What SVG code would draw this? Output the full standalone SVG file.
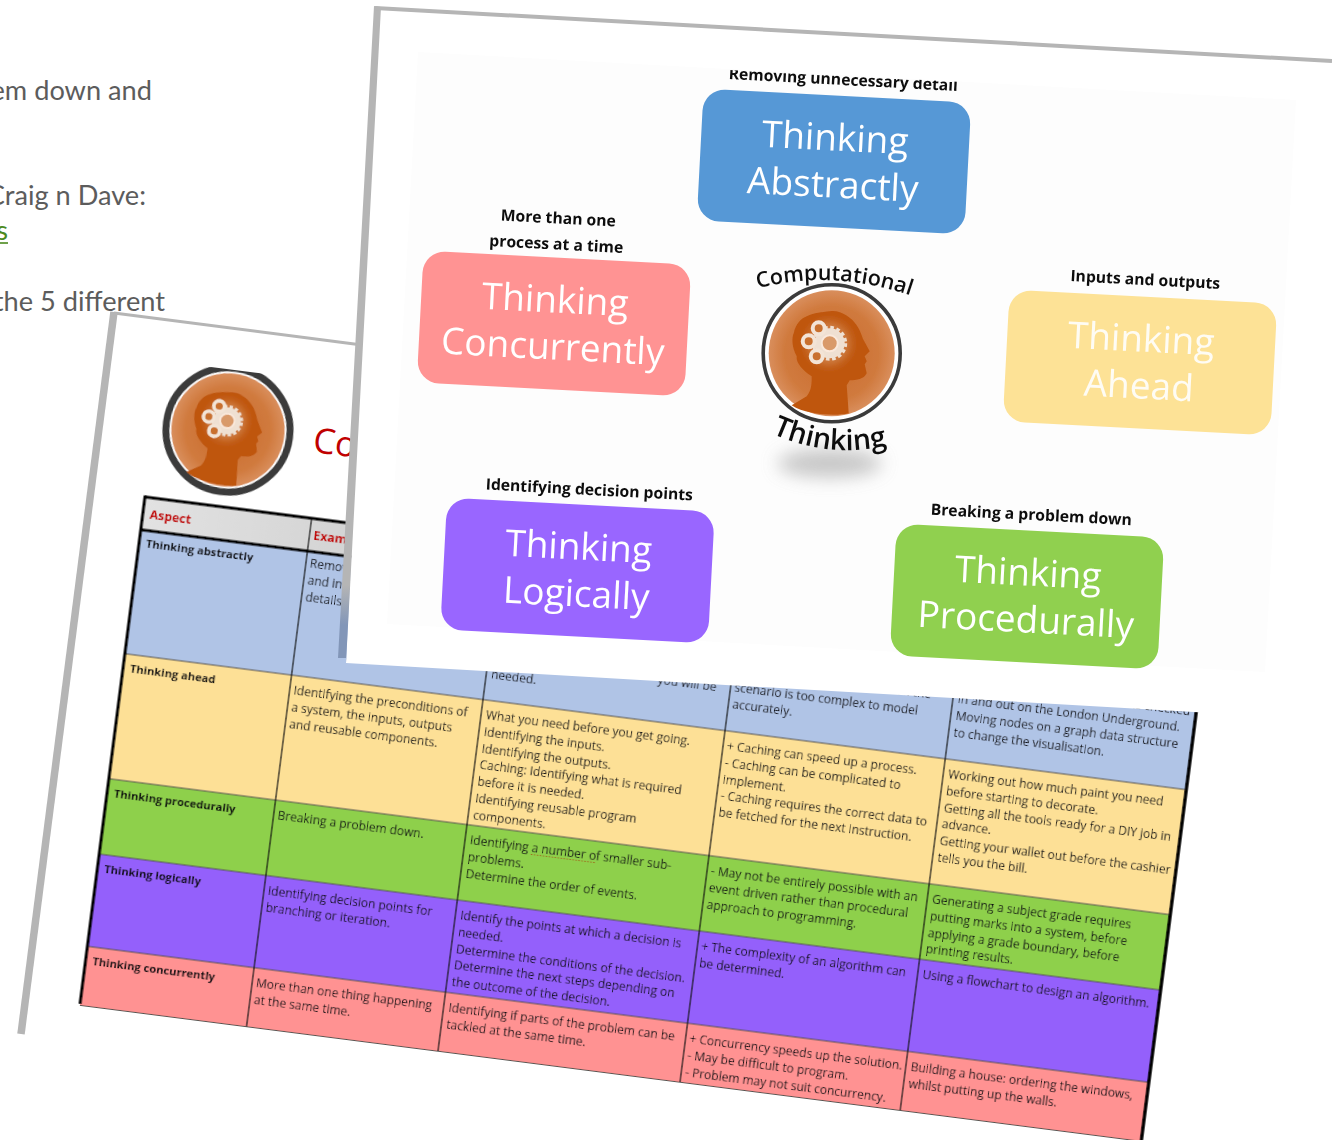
<svg xmlns="http://www.w3.org/2000/svg" xmlns:xlink="http://www.w3.org/1999/xlink" width="1332" height="1140" viewBox="0 0 1332 1140">
<style>
.page{font-family:Lato,"Open Sans",sans-serif;font-size:27.2px;fill:#5c5c5c}
.t{font-family:"Open Sans","Noto Sans",sans-serif;font-size:12px;fill:#101014}
.b{font-family:"Open Sans","Noto Sans",sans-serif;font-size:11.2px;font-weight:700;fill:#0c0c10}
.h{font-family:"Open Sans","Noto Sans",sans-serif;font-size:12.4px;font-weight:700;fill:#c00000}
.card{font-family:"Open Sans","Noto Sans",sans-serif;font-size:37px;fill:#fff;text-anchor:middle}
.lab{font-family:"Open Sans","Noto Sans",sans-serif;font-size:15.7px;font-weight:700;fill:#111;text-anchor:middle}
.cv{font-family:"Open Sans","Noto Sans",sans-serif;font-weight:600;fill:#111}
.v{stroke:#111;stroke-width:1.2}
.r{stroke:#55534f;stroke-width:1.2}
.frame{fill:none;stroke:#b5b5b5}
</style>
<defs>
<radialGradient id="og" cx="50%" cy="50%" r="50%"><stop offset="0" stop-color="#c96a2a"/><stop offset=".75" stop-color="#d07a3e"/><stop offset="1" stop-color="#d98e5c"/></radialGradient>
<linearGradient id="hd" x1="0" y1="0" x2="1" y2="0"><stop offset="0" stop-color="#e2e2e2"/><stop offset=".5" stop-color="#bdbdbd"/><stop offset="1" stop-color="#d6d6d6"/></linearGradient>
<linearGradient id="strip" gradientUnits="userSpaceOnUse" x1="0" y1="585" x2="0" y2="625"><stop offset="0" stop-color="#b5b5b5"/><stop offset="1" stop-color="#8296b8"/></linearGradient>
<filter id="soft" x="-5%" y="-5%" width="110%" height="110%"><feGaussianBlur stdDeviation=".4"/></filter>
<filter id="sh" x="-50%" y="-100%" width="200%" height="300%"><feGaussianBlur stdDeviation="9"/></filter>
<filter id="gl" x="-50%" y="-50%" width="200%" height="200%"><feGaussianBlur stdDeviation="4"/></filter>
<clipPath id="topcut"><polygon points="690,68 1000,84 1000,110 690,100"/></clipPath>
<g id="head">
<circle r="63" fill="url(#og)"/>
<path fill="#bf560e" d="M-2,-42 C8,-44 20,-36 25,-28 C29,-22 30,-17 32,-13 L38,-2 L33,3 L35,8 L33,11 L35,20 C32,26 25,27 18,27 L15,32 L17,60 C5,63 -25,62 -40,52 L-25,43 C-20,37 -20,30 -20,23 C-28,18 -36,10 -35,3 C-40,-6 -40,-16 -38,-20 C-36,-30 -30,-35 -25,-37 C-17,-41 -10,-41 -2,-42 Z"/>
<circle cx="-3" cy="-10" r="22" fill="#f3d8c0" opacity=".3" filter="url(#gl)"/>
<circle cx="-2" cy="-10" r="15" fill="#efe0d2" stroke="#efe0d2" stroke-width="5" stroke-dasharray="3.4 2.5"/>
<circle cx="-2" cy="-10" r="8" fill="#d99a6a" stroke="#fae9dc" stroke-width="2"/>
<circle cx="-13" cy="-25" r="6" fill="#c9702e" stroke="#f3e4d6" stroke-width="4"/>
<circle cx="-23" cy="-12" r="6" fill="#c9702e" stroke="#f3e4d6" stroke-width="4"/>
<circle cx="-15" cy="3" r="6" fill="#c9702e" stroke="#f3e4d6" stroke-width="4"/>
</g>
</defs>

<rect width="1332" height="1140" fill="#fff"/>

<g id="page-text">
<text class="page" x="152" y="100" text-anchor="end">em down and</text>
<text class="page" x="146" y="205" text-anchor="end">Craig n Dave:</text>
<text class="page" x="8" y="240" text-anchor="end" style="fill:#4c8a1e">s</text>
<line x1="0" y1="243" x2="8" y2="243" stroke="#4c8a1e" stroke-width="1.6"/>
<text class="page" x="165" y="311" text-anchor="end">the 5 different</text>
</g>

<g id="back-sheet">
<polygon points="114,314 1000,430 1000,1140 20,1140 20,1034" fill="#fff"/>
<path class="frame" stroke-width="3" d="M114,313 L362,345"/>
<path class="frame" stroke-width="7.5" d="M114,312 L21,1034"/>
<g id="back-logo" transform="translate(228,430) rotate(7.3)" filter="url(#soft)">
<circle r="62" fill="#fff" stroke="#3a3a3a" stroke-width="7"/>
<use xlink:href="#head" href="#head" transform="scale(.9)"/>
</g>
<polygon points="190,355 280,367 267,374 207,366.5" fill="#fff"/>
<text x="312" y="452" transform="rotate(7.3 312 452)" style="font-family:'Open Sans',sans-serif;font-size:35px;fill:#c00000">Co</text>
<g id="table" transform="translate(145,497) rotate(7.3)" filter="url(#soft)">
<rect x="0" y="0" width="1070" height="33" fill="url(#hd)"/>
<rect x="0" y="33" width="1070" height="125" fill="#b0c4e6"/>
<rect x="0" y="158" width="1070" height="126" fill="#fde096"/>
<rect x="0" y="284" width="1070" height="76" fill="#8ed04c"/>
<rect x="0" y="360" width="1070" height="93" fill="#9460fb"/>
<rect x="0" y="453" width="1070" height="60" fill="#ff9292"/>
<path class="r" d="M0,158H1070M0,284H1070M0,360H1070M0,453H1070M0,512.5H1070"/>
<path class="v" d="M168,0V512M361,33V512M605,33V512M827,33V512"/>
<path d="M0,0H1070M0,33H1070" stroke="#000" stroke-width="3"/>
<path d="M0,-1.5V511" stroke="#000" stroke-width="3"/>
<path d="M1070,0V520" stroke="#000" stroke-width="3.4"/>

<text class="h" x="7" y="21.500">Aspect</text>
<text class="h" x="172" y="21.500">Exam</text>

<text class="b" x="7" y="50">Thinking abstractly</text>
<text class="t" x="172" y="49.500">Removi</text>
<text class="t" x="172" y="66.300">and incl</text>
<text class="t" x="172" y="83.100">details.</text>
<text class="t" x="591" y="120" text-anchor="end">you will be</text>
<text class="t" x="366" y="136.500">needed.</text>
<text class="t" x="805" y="100" text-anchor="end">such the</text>
<text class="t" x="609" y="118.500">scenario is too complex to model</text>
<text class="t" x="609" y="135.300">accurately.</text>
<text class="t" x="1064" y="84.500" text-anchor="end">is checked</text>
<text class="t" x="832" y="101">in and out on the London Underground.</text>
<text class="t" x="832" y="117.800">Moving nodes on a graph data structure</text>
<text class="t" x="832" y="134.600">to change the visualisation.</text>

<text class="b" x="7" y="176">Thinking ahead</text>
<text class="t" x="172" y="177">Identifying the preconditions of</text>
<text class="t" x="172" y="193.800">a system, the inputs, outputs</text>
<text class="t" x="172" y="210.600">and reusable components.</text>
<text class="t" x="366" y="177">What you need before you get going.</text>
<text class="t" x="366" y="193.800">Identifying the inputs.</text>
<text class="t" x="366" y="210.600">Identifying the outputs.</text>
<text class="t" x="366" y="227.400">Caching: Identifying what is required</text>
<text class="t" x="366" y="244.200">before it is needed.</text>
<text class="t" x="366" y="261">Identifying reusable program</text>
<text class="t" x="366" y="277.800">components.</text>
<text class="t" x="609" y="177">+ Caching can speed up a process.</text>
<text class="t" x="609" y="193.800">- Caching can be complicated to</text>
<text class="t" x="609" y="210.600">implement.</text>
<text class="t" x="609" y="227.400">- Caching requires the correct data to</text>
<text class="t" x="609" y="244.200">be fetched for the next instruction.</text>
<text class="t" x="832" y="177">Working out how much paint you need</text>
<text class="t" x="832" y="193.800">before starting to decorate.</text>
<text class="t" x="832" y="210.600">Getting all the tools ready for a DIY job in</text>
<text class="t" x="832" y="227.400">advance.</text>
<text class="t" x="832" y="244.200">Getting your wallet out before the cashier</text>
<text class="t" x="832" y="261">tells you the bill.</text>

<text class="b" x="7" y="302">Thinking procedurally</text>
<text class="t" x="172" y="303">Breaking a problem down.</text>
<text class="t" x="366" y="303">Identifying a number of smaller sub-</text>
<path d="M428,305.500H493" stroke="#a05a10" stroke-width="1" stroke-dasharray="1.5 1.5" fill="none"/>
<text class="t" x="366" y="319.800">problems.</text>
<text class="t" x="366" y="336.600">Determine the order of events.</text>
<text class="t" x="609" y="303">- May not be entirely possible with an</text>
<text class="t" x="609" y="319.800">event driven rather than procedural</text>
<text class="t" x="609" y="336.600">approach to programming.</text>
<text class="t" x="832" y="303">Generating a subject grade requires</text>
<text class="t" x="832" y="319.800">putting marks into a system, before</text>
<text class="t" x="832" y="336.600">applying a grade boundary, before</text>
<text class="t" x="832" y="353.400">printing results.</text>

<text class="b" x="7" y="378">Thinking logically</text>
<text class="t" x="172" y="379">Identifying decision points for</text>
<text class="t" x="172" y="395.800">branching or iteration.</text>
<text class="t" x="366" y="379">Identify the points at which a decision is</text>
<text class="t" x="366" y="395.800">needed.</text>
<text class="t" x="366" y="412.600">Determine the conditions of the decision.</text>
<text class="t" x="366" y="429.400">Determine the next steps depending on</text>
<text class="t" x="366" y="446.200">the outcome of the decision.</text>
<text class="t" x="609" y="379">+ The complexity of an algorithm can</text>
<text class="t" x="609" y="395.800">be determined.</text>
<text class="t" x="832" y="379">Using a flowchart to design an algorithm.</text>

<text class="b" x="7" y="471">Thinking concurrently</text>
<text class="t" x="172" y="472">More than one thing happening</text>
<text class="t" x="172" y="488.800">at the same time.</text>
<text class="t" x="366" y="472">Identifying if parts of the problem can be</text>
<text class="t" x="366" y="488.800">tackled at the same time.</text>
<text class="t" x="609" y="472">+ Concurrency speeds up the solution.</text>
<text class="t" x="609" y="488.800">- May be difficult to program.</text>
<text class="t" x="609" y="505.600">- Problem may not suit concurrency.</text>
<text class="t" x="832" y="472">Building a house: ordering the windows,</text>
<text class="t" x="832" y="488.800">whilst putting up the walls.</text>
</g>
</g>

<g id="front-sheet">
<polygon points="378,9 1332,62 1332,720 346,663" fill="#fff"/>
<polygon points="418,52 1296,100 1265,672 387,624" fill="#fdfdfd"/>
<polygon points="374,6 381,7 346,663 346,658 338,658" fill="url(#strip)"/>
<path class="frame" stroke-width="4" d="M375,8 L1332,61"/>

<g filter="url(#soft)">
<g id="thinking-abstractly" transform="translate(834,161.500) rotate(3)">
<rect x="-134" y="-66" width="268" height="132" rx="22" fill="#5698d6"/>
<text class="card" y="-11">Thinking</text>
<text class="card" y="36">Abstractly</text>
</g>
<g id="thinking-concurrently" transform="translate(554,323.500) rotate(3)">
<rect x="-134" y="-66" width="268" height="132" rx="22" fill="#ff9393"/>
<text class="card" y="-11">Thinking</text>
<text class="card" y="36">Concurrently</text>
</g>
<g id="thinking-ahead" transform="translate(1140,362.500) rotate(3)">
<rect x="-134" y="-66" width="268" height="132" rx="22" fill="#fde296"/>
<text class="card" y="-11" opacity=".9">Thinking</text>
<text class="card" y="36" opacity=".9">Ahead</text>
</g>
<g id="thinking-logically" transform="translate(577.500,570.500) rotate(3)">
<rect x="-134" y="-66" width="268" height="132" rx="22" fill="#9966ff"/>
<text class="card" y="-11">Thinking</text>
<text class="card" y="36">Logically</text>
</g>
<g id="thinking-procedurally" transform="translate(1027,596.500) rotate(3)">
<rect x="-134" y="-66" width="268" height="132" rx="22" fill="#90d050"/>
<text class="card" y="-11">Thinking</text>
<text class="card" y="36">Procedurally</text>
</g>

<g id="labels">
<g clip-path="url(#topcut)"><text class="lab" transform="translate(843,85) rotate(3)">Removing unnecessary detail</text></g>
<text class="lab" transform="translate(558,223.500) rotate(3)">More than one</text>
<text class="lab" transform="translate(556,249.500) rotate(3)">process at a time</text>
<text class="lab" transform="translate(1145,285) rotate(3)">Inputs and outputs</text>
<text class="lab" transform="translate(589,495) rotate(3)">Identifying decision points</text>
<text class="lab" transform="translate(1031,520) rotate(3)">Breaking a problem down</text>
</g>

<g id="centre-logo" transform="translate(831.700,353.300)">
<ellipse cx="-2" cy="110" rx="52" ry="14" fill="#9a9a9a" opacity=".55" filter="url(#sh)"/>
<circle r="68.500" fill="#fff" stroke="#3a3a3a" stroke-width="3.600"/>
<use xlink:href="#head" href="#head"/>
<path id="cvA" d="M-74,-65 Q3,-85 84,-56" fill="none"/>
<path id="cvB" d="M-60,80 Q-3,106 56,92" fill="none"/>
<text class="cv" font-size="21.500"><textPath xlink:href="#cvA" href="#cvA">Computational</textPath></text>
<text class="cv" font-size="28.500"><textPath xlink:href="#cvB" href="#cvB">Thinking</textPath></text>
</g>
</g>
</g>
</svg>
